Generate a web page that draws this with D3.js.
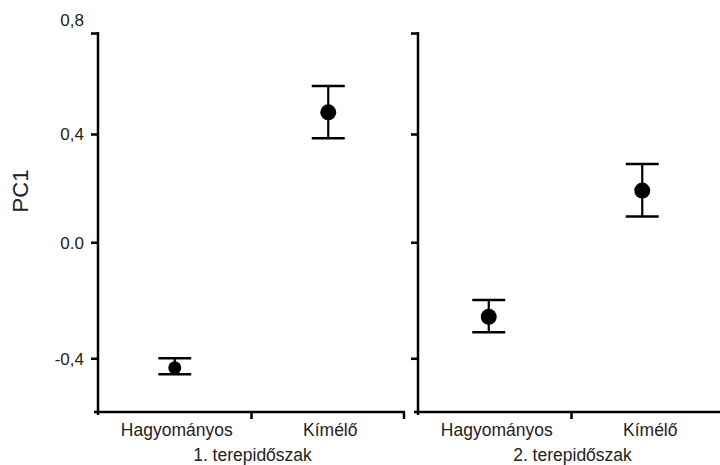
<!DOCTYPE html>
<html>
<head>
<meta charset="utf-8">
<script src="https://cdn.jsdelivr.net/npm/d3@7/dist/d3.min.js"></script>
<style>
  html, body { margin: 0; padding: 0; background: #fff; }
  svg { display: block; font-family: "Liberation Sans", Arial, Helvetica, sans-serif; }
</style>
</head>
<body>
<svg id="chart" width="720" height="465"></svg>
<script>
// ---- data ----
const periods = ["1. terepidőszak", "2. terepidőszak"];
const categories = ["Hagyományos", "Kímélő"];
const meanP1 = [-0.433, 0.486];
const lowP1  = [-0.455, 0.384];
const highP1 = [-0.400, 0.590];
const meanP2 = [-0.257, 0.191];
const lowP2  = [-0.310, 0.095];
const highP2 = [-0.199, 0.289];
const yTicks = [0.8, 0.4, 0.0, -0.4];
const yTickLabels = ["0,8", "0,4", "0.0", "-0,4"];
const yAxisTitle = "PC1";

// ---- layout / style ----
const W = 720, H = 465;
const plotBottom = 412;
const panelLeft = [98, 418];
const panelWidth = 307;
const pointShift = [0, -6];
const markerR = [[6.5, 8], [8, 8]];
const capHalf = 16.5;
const tickLen = 7;
const textColor = "#222";

const svg = d3.select("#chart");

// piecewise y scale (reference tick spacing is not uniform)
const y = d3.scaleLinear()
  .domain([-0.4, 0, 0.4, 0.8])
  .range([358.3, 242.3, 134, 33]);

const panels = [
  { mean: meanP1, low: lowP1, high: highP1 },
  { mean: meanP2, low: lowP2, high: highP2 }
];

panels.forEach((p, pi) => {
  const x0 = panelLeft[pi];
  const x = d3.scaleBand().domain(categories).range([x0, x0 + panelWidth]).padding(0);
  const g = svg.append("g");

  // y axis
  const yAxis = d3.axisLeft(y)
    .tickValues(yTicks)
    .tickSize(tickLen)
    .tickSizeOuter(0)
    .tickFormat((d, i) => pi === 0 ? yTickLabels[i] : "");
  const ya = g.append("g").attr("transform", `translate(${x0},0)`).call(yAxis);
  ya.select(".domain").remove();
  ya.selectAll(".tick line").attr("stroke", "#000").attr("stroke-width", 2.5);
  ya.selectAll(".tick text")
    .attr("x", -14)
    .attr("fill", textColor)
    .style("font-size", "17px")
    .style("font-family", "'Liberation Sans', Arial, sans-serif")
    .attr("dy", (d) => d === 0.8 ? "-0.45em" : "0.34em");
  g.append("line")
    .attr("x1", x0).attr("x2", x0)
    .attr("y1", y(0.8) - 1).attr("y2", plotBottom + 3)
    .attr("stroke", "#000").attr("stroke-width", 2.5);

  // x axis line
  g.append("line")
    .attr("x1", x0 - 4).attr("x2", x0 + panelWidth)
    .attr("y1", plotBottom).attr("y2", plotBottom)
    .attr("stroke", "#000").attr("stroke-width", 2.5);
  // x ticks at band boundaries (after first)
  const bounds = categories.slice(1).map(c => x(c)).concat([x0 + panelWidth - 1]);
  g.selectAll(".xt").data(bounds).enter().append("line")
    .attr("x1", d => d).attr("x2", d => d)
    .attr("y1", plotBottom).attr("y2", plotBottom + tickLen)
    .attr("stroke", "#000").attr("stroke-width", 2.5);

  // x axis category labels
  const xAxis = d3.axisBottom(x).tickSize(0).tickSizeOuter(0);
  const xa = g.append("g").attr("transform", `translate(0,${plotBottom})`).call(xAxis);
  xa.select(".domain").remove();
  xa.selectAll(".tick text")
    .attr("y", 0).attr("dy", 0)
    .attr("transform", "translate(2,24)")
    .attr("fill", textColor)
    .style("font-size", "17.5px")
    .style("font-family", "'Liberation Sans', Arial, sans-serif");

  // period label
  g.append("text")
    .attr("x", x0 + panelWidth / 2 + 1)
    .attr("y", 461)
    .attr("text-anchor", "middle")
    .attr("fill", textColor)
    .style("font-size", "17.5px")
    .text(periods[pi]);

  // error bars and points
  categories.forEach((c, ci) => {
    const cx = x(c) + x.bandwidth() / 2 + pointShift[pi];
    g.append("line")
      .attr("x1", cx).attr("x2", cx)
      .attr("y1", y(p.low[ci])).attr("y2", y(p.high[ci]))
      .attr("stroke", "#000").attr("stroke-width", 2.2);
    [p.low[ci], p.high[ci]].forEach(v => {
      g.append("line")
        .attr("x1", cx - capHalf).attr("x2", cx + capHalf)
        .attr("y1", y(v)).attr("y2", y(v))
        .attr("stroke", "#000").attr("stroke-width", 2.5);
    });
    g.append("circle")
      .attr("cx", cx).attr("cy", y(p.mean[ci]))
      .attr("r", markerR[pi][ci])
      .attr("fill", "#000");
  });
});

// y axis title
svg.append("text")
  .attr("transform", "translate(28,191) rotate(-90)")
  .attr("text-anchor", "middle")
  .attr("fill", textColor)
  .style("font-size", "22px")
  .text(yAxisTitle);
</script>
</body>
</html>
